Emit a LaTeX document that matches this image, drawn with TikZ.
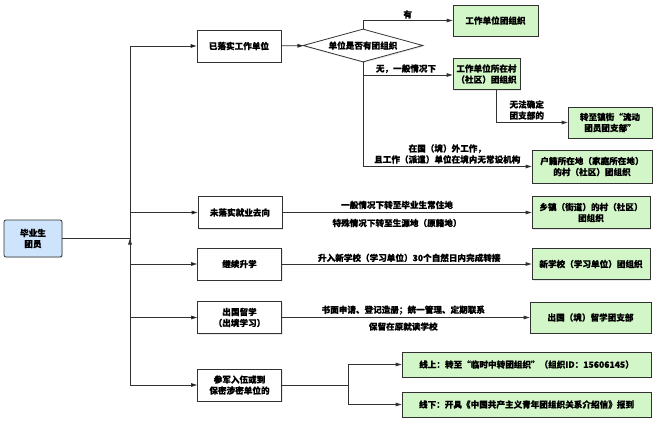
\documentclass[tikz,border=0pt]{standalone}
\usepackage{fontspec}
\setmainfont{Noto Sans CJK SC}[FakeBold=0.3]
\usetikzlibrary{arrows.meta,shapes.geometric,shadows,positioning}

\definecolor{boxgreen}{RGB}{211,246,201}
\definecolor{boxblue}{RGB}{206,228,252}
\definecolor{linegray}{RGB}{50,50,50}

\begin{document}
\begin{tikzpicture}[x=1pt,y=-1pt,font=\fontsize{8.6}{11}\selectfont\bfseries,
        line/.style={draw=linegray,line width=0.8pt},
        arr/.style={line,-{Triangle[length=6pt,width=3.6pt]}},
        box/.style={line,fill=white,rectangle,align=center,inner sep=1pt,
            minimum width=84pt,minimum height=32pt,
            drop shadow={opacity=0.18,shadow xshift=1pt,shadow yshift=-1.2pt}},
        goal/.style={box,fill=boxgreen},
        decision/.style={box,diamond,aspect=3.6,inner sep=0pt,minimum width=120pt,minimum height=33pt},
        lab/.style={inner sep=1.5pt,align=center}]
    \useasboundingbox (0,0) rectangle (660,428);

    \node[box,fill=boxblue,rounded corners=2pt,minimum width=58pt,minimum height=37pt] (root) at (33,238.5) {毕业生\\团员};
    \coordinate (trunk) at (130,238.5);

    \node[box] (job)     at (239,46)    {已落实工作单位};
    \node[box] (nojob)   at (240,212.5) {未落实就业去向};
    \node[box] (study)   at (239.5,264) {继续升学};
    \node[box] (abroad)  at (239.5,317.5) {出国留学\\（出境学习）};
    \node[box] (army)    at (239.5,385) {参军入伍或到\\保密涉密单位的};

    \node[decision] (hasorg) at (363,45.5) {单位是否有团组织};

    \node[goal,minimum width=85pt,minimum height=31pt] (unitorg)  at (495.5,20.5) {工作单位团组织};
    \node[goal,minimum width=67pt,minimum height=31pt] (village)  at (486.5,74)   {工作单位所在村\\（社区）团组织};
    \node[goal,minimum height=31pt] (mobile)   at (610,122.5) {转至镇街“流动\\团员团支部”};
    \node[goal,minimum width=120pt,minimum height=33pt] (huji) at (592,166.5) {户籍所在地（家庭所在地）\\的村（社区）团组织};
    \node[goal,minimum width=118pt] (town)     at (591,212.5) {乡镇（街道）的村（社区）\\团组织};
    \node[goal,minimum width=118pt,minimum height=31pt] (school)   at (591,264)   {新学校（学习单位）团组织};
    \node[goal,minimum width=121pt,minimum height=31pt] (abroadorg) at (590.5,317.5) {出国（境）留学团支部};
    \node[goal,minimum width=249pt,minimum height=25pt] (online)   at (526.5,364.5) {线上：转至“临时中转团组织”（组织ID：15606145）};
    \node[goal,minimum width=249pt,minimum height=25pt] (offline)  at (526.5,404.5) {线下：开具《中国共产主义青年团组织关系介绍信》报到};
    \coordinate (split) at (348,385);

    \draw[line] (root) -- (trunk);
    \draw[line] (130,46) -- (130,385);
    \path[arr]
        (trunk) edge[to path={|- (\tikztotarget)}] (job)
        (trunk) edge[to path={|- (\tikztotarget)}] (nojob)
        (trunk) edge[to path={|- (\tikztotarget)}] (study)
        (trunk) edge[to path={|- (\tikztotarget)}] (abroad)
        (trunk) edge[to path={|- (\tikztotarget)}] (army)
        (job) edge (hasorg);

    \draw[arr] (hasorg.north) |- node[lab,above,pos=0.75] {有} (unitorg);
    \draw[arr] (hasorg.south) |- node[lab,above,pos=0.74] {无，一般情况下} (village.west |- 0,75);
    \draw[arr] (hasorg.south) |- node[lab,above=1pt,pos=0.75] {在国（境）外工作，\\且工作（派遣）单位在境内无常设机构} (huji);
    \draw[arr] ([xshift=9.5pt]village.south) |- node[lab,above=1pt,pos=0.715] {无法确定\\团支部的} (mobile);

    \draw[arr] (nojob) -- node[lab,above=1.5pt,pos=0.46] {一般情况下转至毕业生常住地}
        node[lab,below=4.5pt,pos=0.46] {特殊情况下转至生源地（原籍地）} (town);
    \draw[arr] (study) -- node[lab,above,pos=0.51] {升入新学校（学习单位）30个自然日内完成转接} (school);
    \draw[arr] (abroad) -- node[lab,above=1pt,pos=0.49] {书面申请、登记造册；统一管理、定期联系}
        node[lab,below=3pt,pos=0.49] {保留在原就读学校} (abroadorg);

    \draw[line] (army) -- (split);
    \draw[arr] (split) |- (online);
    \draw[arr] (split) |- (offline);
\end{tikzpicture}
\end{document}
